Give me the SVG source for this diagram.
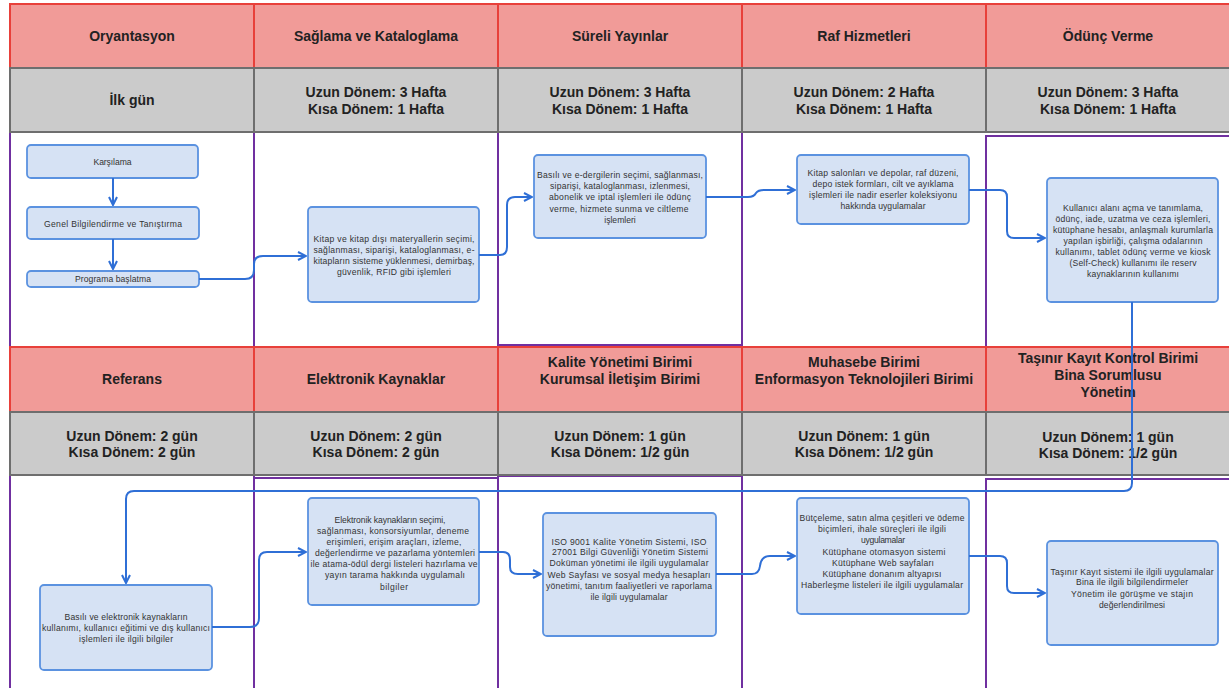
<svg xmlns="http://www.w3.org/2000/svg" width="1229" height="688" viewBox="0 0 1229 688">
<style>
text{font-family:"Liberation Sans",Arial,sans-serif;fill:#222}
.hd{fill:#F19B98;stroke:#E8403A;stroke-width:2}
.gr{fill:#CBCBCB;stroke:#6E6E6E;stroke-width:2}
.pp{fill:#FFFFFF;stroke:#7030A0;stroke-width:2}
.h{font-size:14px;font-weight:bold;text-anchor:middle}
.bx{fill:#D6E2F4;stroke:#5B92E0;stroke-width:1.8}
.t{font-size:8.6px;text-anchor:middle;fill:#333}
.c{fill:none;stroke:#2F6FD6;stroke-width:2;marker-end:url(#ah)}
</style>
<defs>
<marker id="ah" viewBox="0 0 10 10" refX="9" refY="5" markerWidth="5" markerHeight="5" orient="auto" markerUnits="strokeWidth">
<path d="M1,1 L9,5 L1,9" fill="none" stroke="#2F6FD6" stroke-width="2"/>
</marker>
</defs>
<rect width="1229" height="688" fill="#FFFFFF"/>

<g id="panels">
<rect class="pp" x="10" y="132" width="244" height="215"/>
<rect class="pp" x="254" y="132" width="244" height="215"/>
<rect class="pp" x="498" y="132" width="244" height="213"/>
<rect class="pp" x="986" y="136" width="250" height="211"/>
<rect class="pp" x="10" y="475" width="244" height="220"/>
<rect class="pp" x="254" y="478" width="244" height="220"/>
<rect class="pp" x="498" y="476" width="244" height="220"/>
<rect class="pp" x="986" y="479" width="250" height="220"/>
</g>

<g id="lane-oryantasyon">
<rect class="hd" x="10" y="4" width="244" height="64"/>
<rect class="gr" x="10" y="68" width="244" height="64"/>
<text class="h" x="132" y="41">Oryantasyon</text>
<text class="h" x="132" y="105">İlk gün</text>
</g>
<g id="lane-saglama">
<rect class="hd" x="254" y="4" width="244" height="64"/>
<rect class="gr" x="254" y="68" width="244" height="64"/>
<text class="h" x="376" y="41">Sağlama ve Kataloglama</text>
<text class="h" x="376" y="97">Uzun Dönem: 3 Hafta</text>
<text class="h" x="376" y="114">Kısa Dönem: 1 Hafta</text>
</g>
<g id="lane-sureli">
<rect class="hd" x="498" y="4" width="244" height="64"/>
<rect class="gr" x="498" y="68" width="244" height="64"/>
<text class="h" x="620" y="41">Süreli Yayınlar</text>
<text class="h" x="620" y="97">Uzun Dönem: 3 Hafta</text>
<text class="h" x="620" y="114">Kısa Dönem: 1 Hafta</text>
</g>
<g id="lane-raf">
<rect class="hd" x="742" y="4" width="244" height="64"/>
<rect class="gr" x="742" y="68" width="244" height="64"/>
<text class="h" x="864" y="41">Raf Hizmetleri</text>
<text class="h" x="864" y="97">Uzun Dönem: 2 Hafta</text>
<text class="h" x="864" y="114">Kısa Dönem: 1 Hafta</text>
</g>
<g id="lane-odunc">
<rect class="hd" x="986" y="4" width="250" height="64"/>
<rect class="gr" x="986" y="68" width="250" height="64"/>
<text class="h" x="1108" y="41">Ödünç Verme</text>
<text class="h" x="1108" y="97">Uzun Dönem: 3 Hafta</text>
<text class="h" x="1108" y="114">Kısa Dönem: 1 Hafta</text>
</g>

<g id="lane-referans">
<rect class="hd" x="10" y="347" width="244" height="65"/>
<rect class="gr" x="10" y="412" width="244" height="63"/>
<text class="h" x="132" y="384">Referans</text>
<text class="h" x="132" y="441">Uzun Dönem: 2 gün</text>
<text class="h" x="132" y="457">Kısa Dönem: 2 gün</text>
</g>
<g id="lane-elektronik">
<rect class="hd" x="254" y="347" width="244" height="65"/>
<rect class="gr" x="254" y="412" width="244" height="63"/>
<text class="h" x="376" y="384">Elektronik Kaynaklar</text>
<text class="h" x="376" y="441">Uzun Dönem: 2 gün</text>
<text class="h" x="376" y="457">Kısa Dönem: 2 gün</text>
</g>
<g id="lane-kalite">
<rect class="hd" x="498" y="347" width="244" height="65"/>
<rect class="gr" x="498" y="412" width="244" height="63"/>
<text class="h" x="620" y="367">Kalite Yönetimi Birimi</text>
<text class="h" x="620" y="384">Kurumsal İletişim Birimi</text>
<text class="h" x="620" y="441">Uzun Dönem: 1 gün</text>
<text class="h" x="620" y="457">Kısa Dönem: 1/2 gün</text>
</g>
<g id="lane-muhasebe">
<rect class="hd" x="742" y="347" width="244" height="65"/>
<rect class="gr" x="742" y="412" width="244" height="63"/>
<text class="h" x="864" y="367">Muhasebe Birimi</text>
<text class="h" x="864" y="384">Enformasyon Teknolojileri Birimi</text>
<text class="h" x="864" y="441">Uzun Dönem: 1 gün</text>
<text class="h" x="864" y="457">Kısa Dönem: 1/2 gün</text>
</g>
<g id="lane-tasinir">
<rect class="hd" x="986" y="347" width="250" height="65"/>
<rect class="gr" x="986" y="412" width="250" height="63"/>
<text class="h" x="1108" y="363">Taşınır Kayıt Kontrol Birimi</text>
<text class="h" x="1108" y="380">Bina Sorumlusu</text>
<text class="h" x="1108" y="397">Yönetim</text>
<text class="h" x="1108" y="442">Uzun Dönem: 1 gün</text>
<text class="h" x="1108" y="458">Kısa Dönem: 1/2 gün</text>
</g>

<g id="n-karsilama">
<rect class="bx" x="27" y="145" width="171" height="33" rx="4"/>
<text class="t" x="112.5" y="165" textLength="38" lengthAdjust="spacing">Karşılama</text>
</g>
<g id="n-genel">
<rect class="bx" x="27" y="207" width="172" height="32" rx="4"/>
<text class="t" x="113" y="227" textLength="138" lengthAdjust="spacing">Genel Bilgilendirme ve Tanıştırma</text>
</g>
<g id="n-programa">
<rect class="bx" x="27" y="271" width="172" height="16" rx="4"/>
<text class="t" x="113" y="282" textLength="76" lengthAdjust="spacing">Programa başlatma</text>
</g>
<g id="n-kitap">
<rect class="bx" x="308" y="207" width="171" height="95" rx="4"/>
<text class="t" x="394" y="242" textLength="161" lengthAdjust="spacing">Kitap ve kitap dışı materyallerin seçimi,</text>
<text class="t" x="394" y="253" textLength="161" lengthAdjust="spacing">sağlanması, siparişi, kataloglanması, e-</text>
<text class="t" x="394" y="264" textLength="161" lengthAdjust="spacing">kitapların sisteme yüklenmesi, demirbaş,</text>
<text class="t" x="394" y="275" textLength="114" lengthAdjust="spacing">güvenlik, RFID gibi işlemleri</text>
</g>
<g id="n-sureli">
<rect class="bx" x="534" y="155" width="172" height="83" rx="4"/>
<text class="t" x="620" y="178" textLength="166" lengthAdjust="spacing">Basılı ve e-dergilerin seçimi, sağlanması,</text>
<text class="t" x="620" y="189" textLength="140" lengthAdjust="spacing">siparişi, kataloglanması, izlenmesi,</text>
<text class="t" x="620" y="200" textLength="142" lengthAdjust="spacing">abonelik ve iptal işlemleri ile ödünç</text>
<text class="t" x="619" y="212" textLength="139" lengthAdjust="spacing">verme, hizmete sunma ve ciltleme</text>
<text class="t" x="620" y="223">işlemleri</text>
</g>
<g id="n-raf">
<rect class="bx" x="797" y="155" width="172" height="69" rx="4"/>
<text class="t" x="883" y="176" textLength="151" lengthAdjust="spacing">Kitap salonları ve depolar, raf düzeni,</text>
<text class="t" x="883" y="187" textLength="141" lengthAdjust="spacing">depo istek formları, cilt ve ayıklama</text>
<text class="t" x="883" y="198" textLength="148" lengthAdjust="spacing">işlemleri ile nadir eserler koleksiyonu</text>
<text class="t" x="883" y="209" textLength="85" lengthAdjust="spacing">hakkında uygulamalar</text>
</g>
<g id="n-odunc">
<rect class="bx" x="1047" y="178" width="171" height="124" rx="4"/>
<text class="t" x="1133" y="211" textLength="140" lengthAdjust="spacing">Kullanıcı alanı açma ve tanımlama,</text>
<text class="t" x="1133" y="222" textLength="155" lengthAdjust="spacing">ödünç, iade, uzatma ve ceza işlemleri,</text>
<text class="t" x="1133" y="233" textLength="160" lengthAdjust="spacing">kütüphane hesabı, anlaşmalı kurumlarla</text>
<text class="t" x="1133" y="244" textLength="139" lengthAdjust="spacing">yapılan işbirliği, çalışma odalarının</text>
<text class="t" x="1133" y="255" textLength="155" lengthAdjust="spacing">kullanımı, tablet ödünç verme ve kiosk</text>
<text class="t" x="1133" y="266" textLength="127" lengthAdjust="spacing">(Self-Check) kullanımı ile reserv</text>
<text class="t" x="1133" y="277" textLength="92" lengthAdjust="spacing">kaynaklarının kullanımı</text>
</g>
<g id="n-referans">
<rect class="bx" x="40" y="585" width="172" height="85" rx="4"/>
<text class="t" x="126" y="620" textLength="123" lengthAdjust="spacing">Basılı ve elektronik kaynakların</text>
<text class="t" x="126" y="631" textLength="168" lengthAdjust="spacing">kullanımı, kullanıcı eğitimi ve dış kullanıcı</text>
<text class="t" x="126" y="642" textLength="94" lengthAdjust="spacing">işlemleri ile ilgili bilgiler</text>
</g>
<g id="n-elektronik">
<rect class="bx" x="308" y="498" width="171" height="107" rx="4"/>
<text class="t" x="390" y="523" textLength="111" lengthAdjust="spacing">Elektronik kaynakların seçimi,</text>
<text class="t" x="393" y="534" textLength="152" lengthAdjust="spacing">sağlanması, konsorsiyumlar, deneme</text>
<text class="t" x="394" y="545" textLength="135" lengthAdjust="spacing">erişimleri, erişim araçları, izleme,</text>
<text class="t" x="395" y="556" textLength="160" lengthAdjust="spacing">değerlendirme ve pazarlama yöntemleri</text>
<text class="t" x="394" y="567" textLength="167" lengthAdjust="spacing">ile atama-ödül dergi listeleri hazırlama ve</text>
<text class="t" x="395" y="578" textLength="140" lengthAdjust="spacing">yayın tarama hakkında uygulamalı</text>
<text class="t" x="394" y="590" textLength="28" lengthAdjust="spacing">bilgiler</text>
</g>
<g id="n-kalite">
<rect class="bx" x="543" y="513" width="173" height="123" rx="4"/>
<text class="t" x="629" y="545" textLength="155" lengthAdjust="spacing">ISO 9001 Kalite Yönetim Sistemi, ISO</text>
<text class="t" x="630" y="555" textLength="156" lengthAdjust="spacing">27001 Bilgi Güvenliği Yönetim Sistemi</text>
<text class="t" x="629" y="566" textLength="159" lengthAdjust="spacing">Doküman yönetimi ile ilgili uygulamalar</text>
<text class="t" x="629" y="578" textLength="163" lengthAdjust="spacing">Web Sayfası ve sosyal medya hesapları</text>
<text class="t" x="629" y="589" textLength="166" lengthAdjust="spacing">yönetimi, tanıtım faaliyetleri ve raporlama</text>
<text class="t" x="629" y="600" textLength="77" lengthAdjust="spacing">ile ilgili uygulamalar</text>
</g>
<g id="n-muhasebe">
<rect class="bx" x="797" y="498" width="172" height="116" rx="4"/>
<text class="t" x="882" y="521" textLength="165" lengthAdjust="spacing">Bütçeleme, satın alma çeşitleri ve ödeme</text>
<text class="t" x="882" y="532" textLength="128" lengthAdjust="spacing">biçimleri, ihale süreçleri ile ilgili</text>
<text class="t" x="883" y="543" textLength="44" lengthAdjust="spacing">uygulamalar</text>
<text class="t" x="884" y="555" textLength="123" lengthAdjust="spacing">Kütüphane otomasyon sistemi</text>
<text class="t" x="883" y="566" textLength="102" lengthAdjust="spacing">Kütüphane Web sayfaları</text>
<text class="t" x="882" y="577" textLength="119" lengthAdjust="spacing">Kütüphane donanım altyapısı</text>
<text class="t" x="882" y="588" textLength="162" lengthAdjust="spacing">Haberleşme listeleri ile ilgili uygulamalar</text>
</g>
<g id="n-tasinir">
<rect class="bx" x="1047" y="541" width="171" height="104" rx="4"/>
<text class="t" x="1132" y="575" textLength="163" lengthAdjust="spacing">Taşınır Kayıt sistemi ile ilgili uygulamalar</text>
<text class="t" x="1132" y="585" textLength="112" lengthAdjust="spacing">Bina ile ilgili bilgilendirmeler</text>
<text class="t" x="1132" y="597" textLength="122" lengthAdjust="spacing">Yönetim ile görüşme ve stajın</text>
<text class="t" x="1132" y="608" textLength="66" lengthAdjust="spacing">değerlendirilmesi</text>
</g>

<g id="connectors">
<path class="c" d="M113,178 V205"/>
<path class="c" d="M113,239 V269"/>
<path class="c" d="M199,279 H245 Q254,279 254,270 V264 Q254,256 263,256 H306"/>
<path class="c" d="M479,255 H500 Q507,255 507,247 V205 Q507,197 515,197 H532"/>
<path class="c" d="M706,197 H748 Q754,197 756,193 Q758,190 764,190 H795"/>
<path class="c" d="M969,190 H1000 Q1007,190 1007,197 V231 Q1007,238 1014,238 H1045"/>
<path class="c" d="M1132,302 V483 Q1132,491 1124,491 H134 Q126,491 126,499 V583"/>
<path class="c" d="M212,627 H250 Q259,627 259,618 V560 Q259,552 267,552 H306"/>
<path class="c" d="M479,552 H503 Q510,552 510,560 V567 Q510,574 518,574 H541"/>
<path class="c" d="M716,574 H752 Q759,574 760,566 Q761,556 770,556 H795"/>
<path class="c" d="M969,556 H1000 Q1007,556 1007,563 V586 Q1007,593 1014,593 H1045"/>
</g>
</svg>
